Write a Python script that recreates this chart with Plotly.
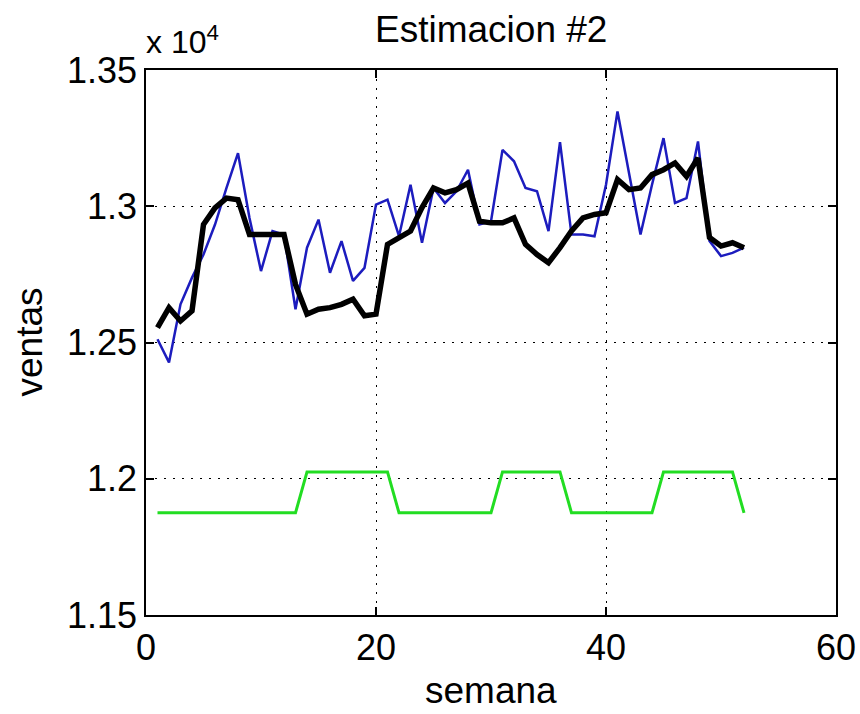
import plotly.graph_objects as go

semana = list(range(1, 53))

real_x1e4 = [1.2512, 1.2427, 1.2640, 1.2738, 1.2823, 1.2933, 1.3067, 1.3195, 1.2957, 1.2762,
             1.2909, 1.2896, 1.2622, 1.2848, 1.2951, 1.2756, 1.2872, 1.2726, 1.2774, 1.3006,
             1.3024, 1.2890, 1.3079, 1.2866, 1.3067, 1.3012, 1.3055, 1.3134, 1.2933, 1.2945,
             1.3207, 1.3165, 1.3067, 1.3055, 1.2909, 1.3235, 1.2896, 1.2896, 1.2890, 1.3079,
             1.3348, 1.3116, 1.2896, 1.3079, 1.3250, 1.3012, 1.3030, 1.3238, 1.2872, 1.2817,
             1.2829, 1.2848]

estim_x1e4 = [1.2555, 1.2628, 1.2579, 1.2616, 1.2933, 1.2994, 1.3030, 1.3024, 1.2896, 1.2896,
              1.2896, 1.2896, 1.2713, 1.2604, 1.2622, 1.2628, 1.2640, 1.2659, 1.2598, 1.2604,
              1.2860, 1.2884, 1.2909, 1.2995, 1.3067, 1.3049, 1.3061, 1.3085, 1.2945, 1.2939,
              1.2939, 1.2957, 1.2860, 1.2823, 1.2793, 1.2848, 1.2909, 1.2957, 1.2970, 1.2976,
              1.3098, 1.3061, 1.3067, 1.3116, 1.3134, 1.3159, 1.3110, 1.3177, 1.2885, 1.2854,
              1.2866, 1.2848]

LOW, HIGH = 1.1875, 1.2025
nivel_x1e4 = ([LOW] * 13 + [HIGH] * 8 + [LOW] * 9 + [HIGH] * 6 + [LOW] * 8 + [HIGH] * 7 + [LOW] * 1)

y_ticks = [1.15, 1.2, 1.25, 1.3, 1.35]
y_tick_labels = ["1.15", "1.2", "1.25", "1.3", "1.35"]
x_ticks = [0, 20, 40, 60]

real = [v * 1e4 for v in real_x1e4]
estim = [v * 1e4 for v in estim_x1e4]
nivel = [v * 1e4 for v in nivel_x1e4]

FONT = "Liberation Sans, Arial, sans-serif"
W, H = 860, 714

fig = go.Figure()
fig.add_trace(go.Scatter(x=semana, y=nivel, mode="lines",
                         line=dict(color="#22dd22", width=3), showlegend=False))
fig.add_trace(go.Scatter(x=semana, y=real, mode="lines",
                         line=dict(color="#1c1cbe", width=2.5), showlegend=False))
fig.add_trace(go.Scatter(x=semana, y=estim, mode="lines",
                         line=dict(color="black", width=5.5), showlegend=False))

axis_common = dict(showline=True, linecolor="black", linewidth=1.5, mirror="ticks",
                   ticks="inside", ticklen=8, tickcolor="black", tickwidth=1.5,
                   showgrid=True, gridcolor="black", griddash="2px,7px", gridwidth=1.2,
                   zeroline=False, automargin=False,
                   tickfont=dict(family=FONT, size=36, color="black"))

fig.update_xaxes(range=[0, 60], tickvals=x_ticks, ticktext=[str(t) for t in x_ticks], **axis_common)
fig.update_yaxes(range=[11500, 13500], tickvals=[v * 1e4 for v in y_ticks], ticktext=y_tick_labels,
                 **axis_common)

fig.update_layout(
    width=W, height=H,
    margin=dict(l=146, r=24, t=70, b=99),
    paper_bgcolor="white", plot_bgcolor="white",
    annotations=[
        dict(text="Estimacion #2", xref="paper", yref="paper", x=0.5, y=1.0,
             xanchor="center", yanchor="bottom", yshift=18, showarrow=False,
             font=dict(family=FONT, size=37, color="black")),
        dict(text="x 10<sup>4</sup>", xref="paper", yref="paper", x=0.0, y=1.0,
             xanchor="left", yanchor="bottom", showarrow=False, yshift=8, xshift=-2,
             font=dict(family=FONT, size=32, color="black")),
        dict(text="semana", xref="paper", yref="paper", x=0.5, y=0.0,
             xanchor="center", yanchor="middle", yshift=-75, showarrow=False,
             font=dict(family=FONT, size=37, color="black")),
        dict(text="ventas", xref="paper", yref="paper", x=0.0, y=0.5,
             xanchor="center", yanchor="middle", xshift=-117, textangle=-90, showarrow=False,
             font=dict(family=FONT, size=37, color="black")),
    ],
)

fig.write_html("out.html", config={"displayModeBar": False},
               post_script="document.body.style.margin='0';document.body.style.overflow='hidden';")
